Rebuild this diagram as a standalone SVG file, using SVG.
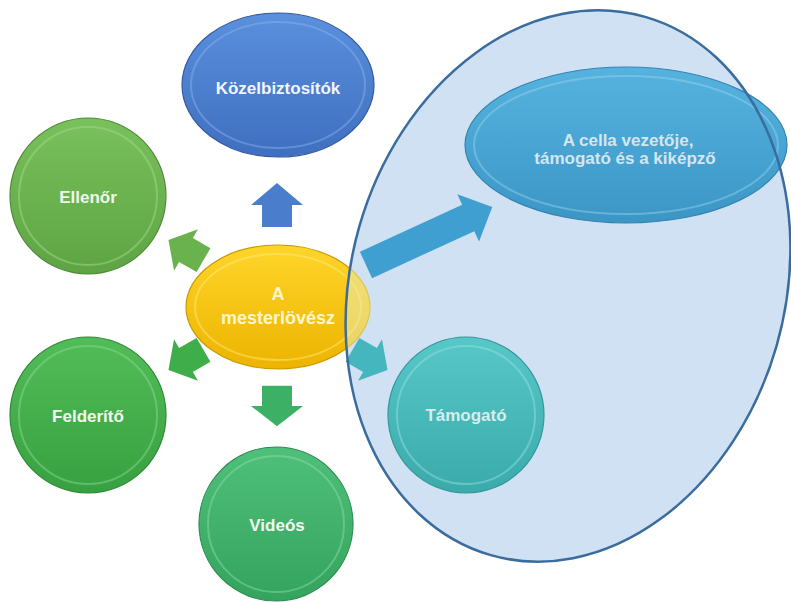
<svg xmlns="http://www.w3.org/2000/svg" width="791" height="602" viewBox="0 0 791 602">
<style>
  .lbl{font-family:"Liberation Sans",Arial,sans-serif;font-weight:bold;font-size:17px;text-anchor:middle}
  .ring{fill:none;stroke-width:2;stroke-opacity:0.45}
  .edge{stroke-width:1.2}
</style>
<defs>
  <linearGradient id="gBlue" x1="0" y1="0" x2="0" y2="1"><stop offset="0" stop-color="#5a90dd"/><stop offset="1" stop-color="#3f6fc0"/></linearGradient>
  <linearGradient id="gEll" x1="0" y1="0" x2="0" y2="1"><stop offset="0" stop-color="#79c15c"/><stop offset="1" stop-color="#5ea444"/></linearGradient>
  <linearGradient id="gFel" x1="0" y1="0" x2="0" y2="1"><stop offset="0" stop-color="#52bd58"/><stop offset="1" stop-color="#37a040"/></linearGradient>
  <linearGradient id="gVid" x1="0" y1="0" x2="0" y2="1"><stop offset="0" stop-color="#4fc07a"/><stop offset="1" stop-color="#34a35e"/></linearGradient>
  <linearGradient id="gTam" x1="0" y1="0" x2="0" y2="1"><stop offset="0" stop-color="#57c7c7"/><stop offset="1" stop-color="#3aaaaa"/></linearGradient>
  <linearGradient id="gCel" x1="0" y1="0" x2="0" y2="1"><stop offset="0" stop-color="#56b3df"/><stop offset="1" stop-color="#3b96c6"/></linearGradient>
  <linearGradient id="gYel" x1="0" y1="0" x2="0" y2="1"><stop offset="0" stop-color="#ffd52a"/><stop offset="1" stop-color="#ecb400"/></linearGradient>
  <path id="arr" d="M-22,-15 L0,-15 L0,-26 L22,0 L0,26 L0,15 L-22,15 Z"/>
  <ellipse id="big" cx="568" cy="286" rx="217" ry="280" transform="rotate(16 568 286)"/>
  <clipPath id="bigClip"><use href="#big"/></clipPath>
</defs>
<rect width="791" height="602" fill="#ffffff"/>

<g id="group-ellipse-fill">
  <use href="#big" fill="#cfe1f2"/>
</g>

<g id="node-kozel">
  <ellipse cx="278" cy="85" rx="96" ry="72" fill="url(#gBlue)" stroke="#34599d" class="edge"/>
  <ellipse cx="278" cy="85" rx="87" ry="63" class="ring" stroke="#8fb4ec"/>
  <text x="278" y="94" class="lbl" fill="#f2f6ff">Közelbiztosítók</text>
</g>
<g id="node-ellenor">
  <circle cx="88" cy="196" r="78" fill="url(#gEll)" stroke="#4f8c3a" class="edge"/>
  <circle cx="88" cy="196" r="69" class="ring" stroke="#a8dc90"/>
  <text x="88" y="203" class="lbl" fill="#f0f8ea">Ellenőr</text>
</g>
<g id="node-felderito">
  <circle cx="88" cy="415" r="78" fill="url(#gFel)" stroke="#2f8a36" class="edge"/>
  <circle cx="88" cy="415" r="69" class="ring" stroke="#8fdc94"/>
  <text x="88" y="422" class="lbl" fill="#f0f9f0">Felderítő</text>
</g>
<g id="node-videos">
  <circle cx="276" cy="524" r="77" fill="url(#gVid)" stroke="#2d8c52" class="edge"/>
  <circle cx="276" cy="524" r="68" class="ring" stroke="#8fe0ae"/>
  <text x="277" y="531" class="lbl" fill="#f0faf4">Videós</text>
</g>
<g id="node-mesterlovesz">
  <ellipse cx="278" cy="307" rx="92" ry="62" fill="url(#gYel)" stroke="#c99a00" class="edge"/>
  <ellipse cx="278" cy="307" rx="83" ry="53" class="ring" stroke="#fff08a"/>
  <ellipse cx="278" cy="307" rx="93" ry="63" fill="#e8f0c0" fill-opacity="0.5" clip-path="url(#bigClip)"/>
  <text x="278" y="300" class="lbl" style="font-size:18px" fill="#fff6cc">A</text>
  <text x="278" y="324" class="lbl" style="font-size:18px" fill="#fff6cc">mesterlövész</text>
</g>

<g id="node-tamogato">
  <circle cx="466" cy="415" r="78" fill="url(#gTam)" stroke="#35979a" class="edge"/>
  <circle cx="466" cy="415" r="69" class="ring" stroke="#9ae4e4"/>
  <text x="466" y="421" class="lbl" fill="#d6eeee">Támogató</text>
</g>
<g id="node-cella">
  <ellipse cx="626" cy="145" rx="161" ry="78" fill="url(#gCel)" stroke="#3584b0" class="edge"/>
  <ellipse cx="626" cy="145" rx="152" ry="69" class="ring" stroke="#9ad4f0"/>
  <text x="628" y="146" class="lbl" fill="#d4e6ef">A cella vezetője,</text>
  <text x="625" y="164" class="lbl" fill="#d4e6ef">támogató és a kiképző</text>
</g>

<g id="connectors">
  <use href="#arr" transform="translate(277 205) rotate(-90)" fill="#4a7dcb"/>
  <use href="#arr" transform="translate(277 406) rotate(90) scale(0.92 1)" fill="#3cb065"/>
  <use href="#arr" transform="translate(186 250) rotate(210) scale(0.92)" fill="#6ab24d"/>
  <use href="#arr" transform="translate(186 360) rotate(150) scale(0.92)" fill="#3fae4a"/>
  <use href="#arr" transform="translate(370 360) rotate(30) scale(0.92)" fill="#46b6be"/>
  <path d="M0,-14.5 L112.5,-14.5 L112.5,-26 L139,0 L112.5,26 L112.5,14.5 L0,14.5 Z" transform="translate(366 265) rotate(-24.7)" fill="#3f9fd0"/>
</g>

<g id="group-ellipse-outline">
  <use href="#big" fill="none" stroke="#3a6c9e" stroke-width="2.5"/>
</g>
</svg>
